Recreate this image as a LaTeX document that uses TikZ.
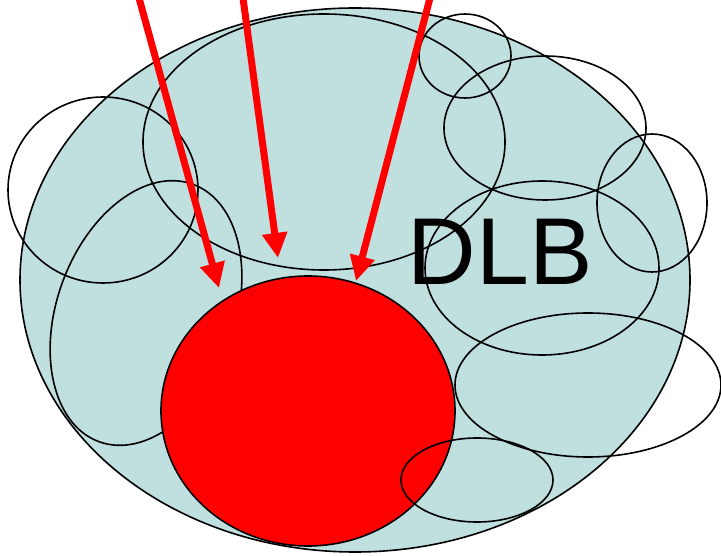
\documentclass[tikz,border=0pt]{standalone}
\usepackage{fontspec}
\setmainfont{Liberation Sans}
\usetikzlibrary{arrows.meta}
\definecolor{dlbfill}{RGB}{192,223,223}
\begin{document}
\begin{tikzpicture}[x=1pt,y=-1pt,
  outline/.style={draw=black,line width=1.6pt},
  redarrow/.style={draw=red,line width=7pt,-{Triangle[width=24pt,length=25pt]}},
  lbl/.style={anchor=base,inner sep=0pt,font=\fontsize{95}{95}\selectfont}]
\useasboundingbox (0,0) rectangle (721,556);
% big region
\fill[dlbfill] (355,280) ellipse [x radius=335pt, y radius=272pt];
\draw[outline] (355,280) ellipse [x radius=335pt, y radius=272pt];
% overlapping outlines
\draw[outline] (324,142) ellipse [x radius=181pt, y radius=128pt];
\draw[outline] (103,190) ellipse [x radius=95pt, y radius=93pt];
\draw[outline, rotate around={-20:(146,313)}] (146,313) ellipse [x radius=89pt, y radius=137pt];
\draw[outline] (465,56) ellipse [x radius=46pt, y radius=42pt];
\draw[outline] (545,128) ellipse [x radius=101pt, y radius=72pt];
\draw[outline] (652,203) ellipse [x radius=55pt, y radius=69pt];
\draw[outline] (542,268) ellipse [x radius=117pt, y radius=87pt];
\draw[outline] (588,385) ellipse [x radius=133pt, y radius=72pt];
% red target
\fill[red] (308,411) ellipse [x radius=147pt, y radius=135pt];
\draw[outline] (308,411) ellipse [x radius=147pt, y radius=135pt];
\draw[outline] (477,480) ellipse [x radius=76pt, y radius=42pt];
% arrows
\coordinate (s1) at (139,-2);
\coordinate (t1) at (219,288);
\coordinate (s2) at (243,-2);
\coordinate (t2) at (278,258);
\coordinate (s3) at (430,-2);
\coordinate (t3) at (356,281);
\draw[redarrow] (s1) -- (t1);
\draw[redarrow] (s2) -- (t2);
\draw[redarrow] (s3) -- (t3);
% label
\node[lbl] (dlb) at (500,285) {DLB};
\end{tikzpicture}
\end{document}
